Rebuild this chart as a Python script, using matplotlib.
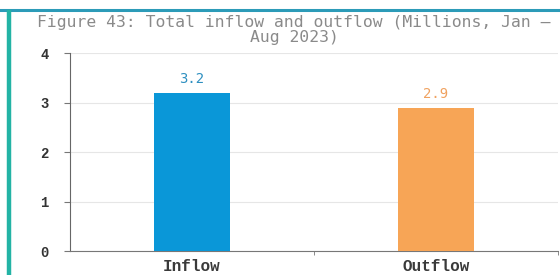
import matplotlib.pyplot as plt
from matplotlib.lines import Line2D

categories = ["Inflow", "Outflow"]
values = [3.2, 2.9]
labels = ["3.2", "2.9"]
colors = ["#0a97d8", "#f7a556"]
label_colors = ["#2d8fc0", "#f0a260"]

fig = plt.figure(figsize=(5.6, 2.75), dpi=100)
ax = fig.add_axes([0.125, 0.087, 0.871, 0.72])

x = range(len(categories))
ax.bar(x, values, width=0.31, color=colors, zorder=3)
for i, v in enumerate(values):
    ax.text(i, v + 0.27, labels[i], ha="center", va="center",
            fontsize=10, color=label_colors[i], family="DejaVu Sans Mono")

ax.set_xlim(-0.5, 1.5)
ax.set_ylim(0, 4)
ax.set_yticks([0, 1, 2, 3, 4])
ax.set_xticks([0, 1])
ax.set_xticklabels(categories, family="Liberation Mono", fontsize=11.5,
                   fontweight="bold", color="#3a3a3a")
ax.set_xticks([0.5, 1.5], minor=True)
ax.tick_params(axis="x", which="major", length=0, pad=6)
ax.tick_params(axis="x", which="minor", length=3, color="#777777")
ax.tick_params(axis="y", length=4.5, color="#777777", labelsize=10,
               labelcolor="#333333", pad=11)
for t in ax.get_yticklabels():
    t.set_family("Liberation Mono")
    t.set_fontweight("bold")
ax.grid(axis="y", color="#e6e6e6", linewidth=0.8, zorder=0)
ax.spines["top"].set_visible(False)
ax.spines["right"].set_visible(False)
ax.spines["left"].set_color("#666666")
ax.spines["bottom"].set_color("#777777")

fig.text(0.525, 0.848, "Figure 43: Total inflow and outflow (Millions, Jan \u2014\nAug 2023)",
         ha="center", va="baseline", fontsize=11.8, color="#8a8a8a",
         family="DejaVu Sans Mono", linespacing=1.0)

# frame accents
fig.add_artist(Line2D([0, 1], [0.962, 0.962], color="#2c9bb8", linewidth=2.2))
fig.add_artist(Line2D([0.0165, 0.0165], [0, 0.958], color="#23b3a5", linewidth=3.2))

fig.savefig("out.png", dpi=100)
